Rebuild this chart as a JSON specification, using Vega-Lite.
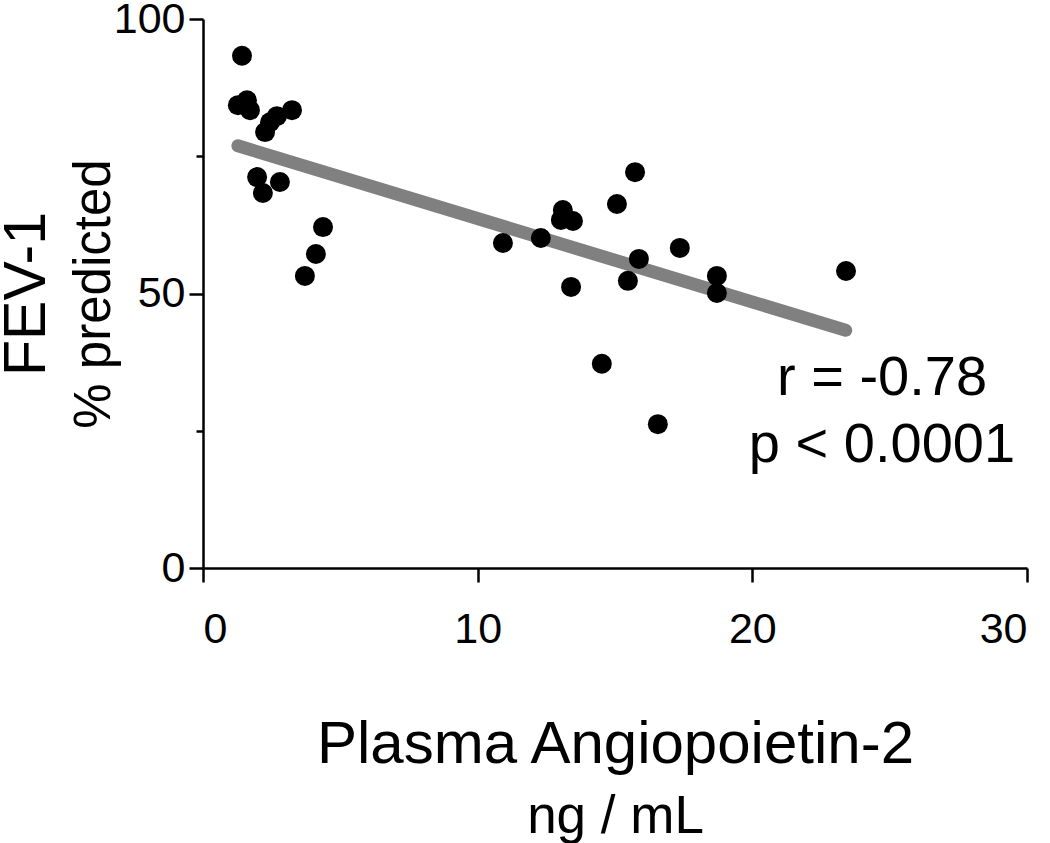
{
  "$schema": "https://vega.github.io/schema/vega-lite/v6.json",
  "width": 824,
  "height": 549,
  "autosize": "none",
  "padding": {"left": 203, "top": 19, "right": 23, "bottom": 275},
  "background": "white",
  "config": {
    "view": {"stroke": null},
    "font": "Liberation Sans",
    "axis": {
      "grid": false,
      "domainColor": "black",
      "domainWidth": 2.5,
      "tickColor": "black",
      "tickWidth": 2.5,
      "labelColor": "black",
      "titleColor": "black",
      "labelFont": "Liberation Sans",
      "titleFont": "Liberation Sans",
      "titleFontWeight": "normal",
      "minExtent": 0,
      "maxExtent": 400
    }
  },
  "datasets": {
    "points": [
      {"ang2": 1.42, "fev1": 93.3},
      {"ang2": 1.27, "fev1": 84.3},
      {"ang2": 1.60, "fev1": 85.2},
      {"ang2": 1.71, "fev1": 83.4},
      {"ang2": 3.24, "fev1": 83.4},
      {"ang2": 2.69, "fev1": 82.3},
      {"ang2": 2.44, "fev1": 81.2},
      {"ang2": 2.26, "fev1": 79.4},
      {"ang2": 1.97, "fev1": 71.2},
      {"ang2": 2.80, "fev1": 70.3},
      {"ang2": 2.18, "fev1": 68.3},
      {"ang2": 4.37, "fev1": 62.1},
      {"ang2": 4.11, "fev1": 57.2},
      {"ang2": 3.71, "fev1": 53.2},
      {"ang2": 10.92, "fev1": 59.2},
      {"ang2": 12.30, "fev1": 60.1},
      {"ang2": 13.10, "fev1": 65.2},
      {"ang2": 13.03, "fev1": 63.4},
      {"ang2": 13.47, "fev1": 63.2},
      {"ang2": 15.07, "fev1": 66.3},
      {"ang2": 15.73, "fev1": 72.1},
      {"ang2": 15.87, "fev1": 56.3},
      {"ang2": 15.47, "fev1": 52.3},
      {"ang2": 13.40, "fev1": 51.2},
      {"ang2": 17.36, "fev1": 58.3},
      {"ang2": 18.71, "fev1": 53.2},
      {"ang2": 18.71, "fev1": 50.1},
      {"ang2": 23.41, "fev1": 54.1},
      {"ang2": 14.52, "fev1": 37.2},
      {"ang2": 16.56, "fev1": 26.2}
    ],
    "fit": [
      {"ang2": 1.27, "fev1": 76.9},
      {"ang2": 23.4, "fev1": 43.3}
    ],
    "stats": [
      {"ang2": 24.72, "fev1": 31.5, "label": "r = -0.78"},
      {"ang2": 24.72, "fev1": 19.3, "label": "p < 0.0001"}
    ]
  },
  "layer": [
    {
      "data": {"name": "fit"},
      "mark": {"type": "line", "stroke": "#808080", "strokeWidth": 13, "strokeCap": "round"},
      "encoding": {
        "x": {
          "field": "ang2", "type": "quantitative",
          "scale": {"domain": [0, 30], "nice": false, "zero": false},
          "axis": {
            "orient": "bottom",
            "title": "ng / mL", "titleFontSize": 53, "titlePadding": 222,
            "domain": false, "ticks": false, "labels": false
          }
        },
        "y": {
          "field": "fev1", "type": "quantitative",
          "scale": {"domain": [0, 100], "nice": false, "zero": false},
          "axis": {
            "orient": "left",
            "title": "FEV-1", "titleFontSize": 59, "titlePadding": 138,
            "domain": false, "labels": false, "values": [25, 75], "tickSize": 7
          }
        }
      }
    },
    {
      "data": {"name": "points"},
      "mark": {"type": "circle", "color": "black", "size": 400, "opacity": 1},
      "encoding": {
        "x": {
          "field": "ang2", "type": "quantitative",
          "axis": {
            "orient": "bottom",
            "title": "Plasma Angiopoietin-2", "titleFontSize": 60, "titlePadding": 64,
            "values": [0, 10, 20, 30], "tickSize": 14, "labelFontSize": 43, "labelPadding": 26
          }
        },
        "y": {
          "field": "fev1", "type": "quantitative",
          "axis": {
            "orient": "left",
            "title": "% predicted", "titleFontSize": 51, "titlePadding": -7,
            "values": [0, 50, 100], "tickSize": 14, "labelFontSize": 43, "labelPadding": 4
          }
        }
      }
    },
    {
      "data": {"name": "stats"},
      "mark": {"type": "text", "fontSize": 56, "align": "center", "baseline": "alphabetic", "color": "black", "font": "Liberation Sans"},
      "encoding": {
        "x": {"field": "ang2", "type": "quantitative", "axis": null},
        "y": {"field": "fev1", "type": "quantitative", "axis": null},
        "text": {"field": "label"}
      }
    }
  ],
  "resolve": {"axis": {"x": "independent", "y": "independent"}}
}
